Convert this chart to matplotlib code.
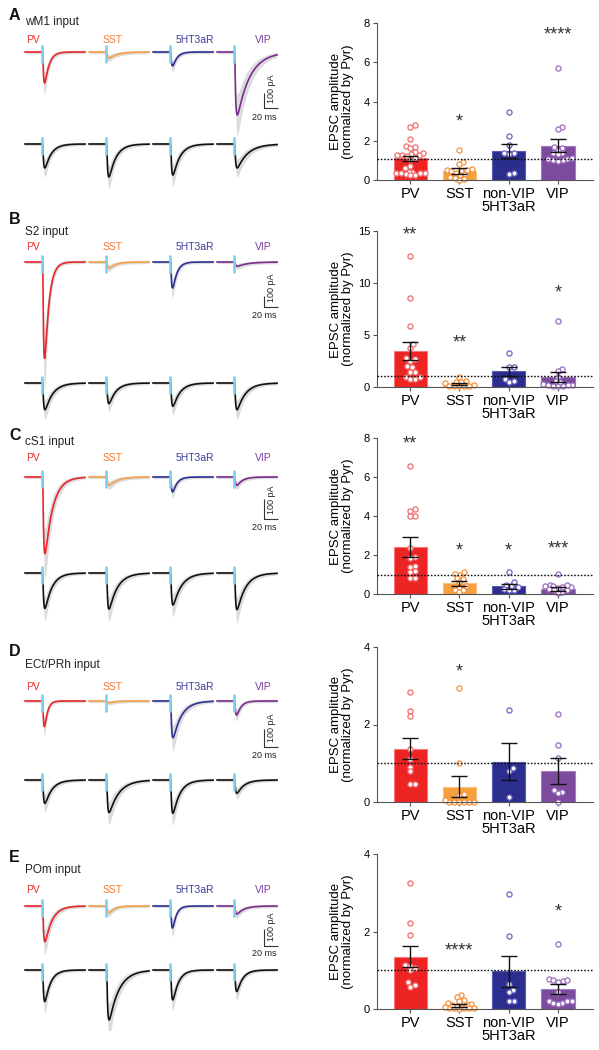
import numpy as np
import matplotlib
matplotlib.use("Agg")
import matplotlib.pyplot as plt

plt.rcParams['font.family'] = ['Liberation Sans', 'DejaVu Sans']

# ======================= DATA =======================
panel_letters = ['A', 'B', 'C', 'D', 'E']
input_names = ['wM1 input', 'S2 input', 'cS1 input', 'ECt/PRh input', 'POm input']
trace_labels = ['PV', 'SST', '5HT3aR', 'VIP']
bar_categories = ['PV', 'SST', 'non-VIP\n5HT3aR', 'VIP']

# Example EPSC peak amplitudes (pA): interneuron (top row) / paired Pyr (bottom row)
inter_amp_A = [207, 40, 93, 420]
pyr_amp_A = [160, 220, 207, 160]
inter_amp_B = [900, 56, 243, 40]
pyr_amp_B = [250, 193, 218, 250]
inter_amp_C = [383, 42, 75, 42]
pyr_amp_C = [177, 180, 160, 183]
inter_amp_D = [142, 10, 204, 78]
pyr_amp_D = [130, 181, 185, 74]
inter_amp_E = [210, 40, 130, 47]
pyr_amp_E = [186, 294, 176, 127]

# Decay time constants of the example EPSCs (ms)
inter_tau_A = [6, 12, 6, 18]
pyr_tau_A = [9, 10, 10, 15]
inter_tau_B = [6, 10, 6, 15]
pyr_tau_B = [11, 10, 10, 12]
inter_tau_C = [11, 12, 6, 8]
pyr_tau_C = [10, 12, 12, 12]
inter_tau_D = [4, 10, 12, 6]
pyr_tau_D = [10, 14, 10, 10]
inter_tau_E = [10, 8, 5, 10]
pyr_tau_E = [8, 14, 8, 8]

# Bar charts: mean, SEM and individual cells (EPSC amplitude normalized by Pyr)
mean_A = [1.10, 0.46, 1.48, 1.75]
sem_A = [0.14, 0.16, 0.36, 0.32]
pv_A = [2.80, 2.71, 2.08, 1.73, 1.66, 1.61, 1.41, 1.36, 1.31, 1.27, 1.27, 1.25,
        1.22, 1.12, 1.05, 0.71, 0.59, 0.42, 0.42, 0.37, 0.37, 0.34, 0.34, 0.30, 0.28, 0.25]
sst_A = [1.53, 0.94, 0.82, 0.55, 0.52, 0.48, 0.45, 0.35, 0.30, 0.25, 0.15, 0.10, 0.05, 0.02, 0.50]
nvip_A = [3.46, 2.22, 1.76, 1.38, 1.36, 1.34, 0.34, 0.32]
vip_A = [5.69, 2.72, 2.59, 1.70, 1.64, 1.55, 1.40, 1.36, 1.30, 1.08, 1.05, 1.02, 1.00, 0.98, 1.10]
stars_A = ['', '*', '', '****']
star_y_A = [0, 2.95, 0, 7.4]

mean_B = [3.45, 0.28, 1.50, 0.95]
sem_B = [0.85, 0.10, 0.45, 0.48]
pv_B = [12.6, 8.55, 5.85, 4.10, 3.75, 2.78, 2.72, 2.53, 2.00, 1.90, 1.48, 1.48, 0.93, 0.93, 0.77, 0.77]
sst_B = [0.95, 0.55, 0.50, 0.45, 0.38, 0.20, 0.10, 0.05, 0.05, 0.10, 0.05]
nvip_B = [3.25, 1.95, 1.90, 0.75, 0.50, 0.55]
vip_B = [6.30, 1.70, 1.50, 1.00, 0.55, 0.30, 0.20, 0.15, 0.10, 0.10, 0.10, 0.15, 0.45]
stars_B = ['**', '**', '', '*']
star_y_B = [14.6, 4.2, 0, 9.0]

mean_C = [2.42, 0.55, 0.40, 0.25]
sem_C = [0.50, 0.14, 0.12, 0.09]
pv_C = [6.55, 4.35, 4.25, 4.02, 3.98, 2.35, 1.92, 1.85, 1.45, 1.40, 1.20, 1.15, 0.80, 0.80]
sst_C = [1.15, 1.02, 1.00, 0.82, 0.75, 0.60, 0.40, 0.35, 0.20, 0.20, 0.08]
nvip_C = [1.15, 0.60, 0.48, 0.42, 0.35, 0.25, 0.20, 0.20]
vip_C = [1.05, 0.45, 0.42, 0.40, 0.38, 0.32, 0.28, 0.22, 0.18, 0.12, 0.05, 0.35, 0.45]
stars_C = ['**', '*', '*', '***']
star_y_C = [7.7, 2.2, 2.2, 2.3]

mean_D = [1.38, 0.40, 1.04, 0.80]
sem_D = [0.28, 0.27, 0.47, 0.33]
pv_D = [2.85, 2.34, 2.22, 1.36, 1.10, 0.91, 0.79, 0.46, 0.47]
sst_D = [2.95, 1.00, 0.20, 0.17, 0.00, 0.00, 0.00, 0.00, 0.00, 0.00, 0.05]
nvip_D = [2.37, 0.87, 0.80, 0.13]
vip_D = [2.26, 1.46, 1.14, 0.30, 0.25, 0.22, 0.00]
stars_D = ['', '*', '', '']
star_y_D = [0, 3.35, 0, 0]

mean_E = [1.35, 0.08, 0.98, 0.52]
sem_E = [0.27, 0.04, 0.40, 0.13]
pv_E = [3.24, 2.21, 1.90, 1.14, 1.12, 1.05, 1.00, 0.69, 0.62, 0.58]
sst_E = [0.35, 0.30, 0.22, 0.20, 0.15, 0.12, 0.10, 0.06, 0.03, 0.02, 0.02, 0.01,
         0.02, 0.03, 0.05, 0.08, 0.10]
nvip_E = [2.97, 1.88, 0.65, 0.50, 0.45, 0.20, 0.20]
vip_E = [1.67, 0.78, 0.75, 0.72, 0.70, 0.75, 0.45, 0.20, 0.15, 0.20, 0.15, 0.20, 0.12]
stars_E = ['', '****', '', '*']
star_y_E = [0, 1.5, 0, 2.5]

y_max = [8, 15, 8, 4, 4]
y_ticks = [[0, 2, 4, 6, 8], [0, 5, 10, 15], [0, 2, 4, 6, 8], [0, 2, 4], [0, 2, 4]]
ref_level = [1.07, 1.1, 1.0, 1.0, 1.0]

# ======================= STYLE / LAYOUT =======================
W, H = 599, 1050
fig = plt.figure(figsize=(W / 100, H / 100), dpi=100)

bar_colors = ['#ee2424', '#f6a03d', '#2b2e8c', '#7d4b9e']
bar_edges = ['#f47a7a', '#f9c080', '#5a5cb0', '#a07cc0']
pt_edges = ['#f26d6d', '#f7923a', '#6a62c4', '#9a6cc0']
trace_colors = ['#e8262b', '#f5a04a', '#2e3192', '#7b2d8e']
label_colors = ['#ee3030', '#f47a3a', '#3b3d9c', '#7e3f9d']
stim_color = '#7fd0ee'

# per row pixel layout
letter_y = [15, 219, 435, 652, 858]
title_y = [22, 232, 442, 665, 870]
label_y = [40, 247, 458, 687, 890]
top_base = [52, 262, 477, 701, 906]
bot_base = [144, 383, 573, 780, 970]
px_per_100pA = [15, 10.7, 20, 18, 17]
scale_bottom = [108, 307, 519, 747, 946]
ms_text_y = [117, 315, 528, 756, 953]
bar_zero = [180, 387, 594, 802, 1009]
bar_top = [23, 231, 438, 647, 854]

PX_PER_MS = 0.7
seg_start_px = [25, 89, 153, 217]
label_x_px = [33, 113, 195, 263]
SEG_MS = 86
STIM_MS = 24.5

AX_L, AX_R = 377, 593


def frect(x0, y0, x1, y1):
    return [x0 / W, 1 - y1 / H, (x1 - x0) / W, (y1 - y0) / H]


def ftext(xp, yp, s, **kw):
    return fig.text(xp / W, 1 - yp / H, s, **kw)


def epsc(t, amp, tau_d, tau_r=1.2, onset=STIM_MS + 1.0):
    tt = np.clip(t - onset, 0, None)
    w = np.exp(-tt / tau_d) - np.exp(-tt / tau_r)
    w = w / w.max()
    return -amp * w


def swarm(vals, ypu, xpu, d=4.6, max_off=14.5):
    """Deterministic beeswarm offsets (in data units) kept within the bar."""
    vals = np.asarray(vals, float)
    order = np.argsort(vals)
    placed = []
    xs = np.zeros(len(vals))
    cands = [0.0]
    k = 1
    while k * 0.5 <= max_off:
        cands += [k * 0.5, -k * 0.5]
        k += 1
    for i in order:
        y = vals[i] * ypu
        best, best_d = 0.0, -1
        for c in cands:
            md = min([np.hypot(c - px, y - py) for px, py in placed] + [99])
            if md >= d:
                best = c
                break
            if md > best_d + 1e-9:
                best, best_d = c, md
        placed.append((best, y))
        xs[i] = best / xpu
    return xs


inter_amps = [inter_amp_A, inter_amp_B, inter_amp_C, inter_amp_D, inter_amp_E]
pyr_amps = [pyr_amp_A, pyr_amp_B, pyr_amp_C, pyr_amp_D, pyr_amp_E]
inter_taus = [inter_tau_A, inter_tau_B, inter_tau_C, inter_tau_D, inter_tau_E]
pyr_taus = [pyr_tau_A, pyr_tau_B, pyr_tau_C, pyr_tau_D, pyr_tau_E]
means = [mean_A, mean_B, mean_C, mean_D, mean_E]
sems = [sem_A, sem_B, sem_C, sem_D, sem_E]
points = [[pv_A, sst_A, nvip_A, vip_A], [pv_B, sst_B, nvip_B, vip_B],
          [pv_C, sst_C, nvip_C, vip_C], [pv_D, sst_D, nvip_D, vip_D],
          [pv_E, sst_E, nvip_E, vip_E]]
stars = [stars_A, stars_B, stars_C, stars_D, stars_E]
star_ys = [star_y_A, star_y_B, star_y_C, star_y_D, star_y_E]

t = np.arange(0, SEG_MS, 0.2)

for r in range(5):
    # ---------------- traces ----------------
    s = px_per_100pA[r]
    pa_per_px = 100.0 / s
    x0p, x1p = 15, 292
    y0p, y1p = label_y[r] - 8, bot_base[r] + 60
    ax = fig.add_axes(frect(x0p, y0p, x1p, y1p))
    ax.set_axis_off()
    ax.set_xlim((x0p - 25) / PX_PER_MS, (x1p - 25) / PX_PER_MS)
    ax.set_ylim((top_base[r] - y1p) * pa_per_px, (top_base[r] - y0p) * pa_per_px)
    pyr_base = -(bot_base[r] - top_base[r]) * pa_per_px
    band = 1.6 * pa_per_px
    for j in range(4):
        off = (seg_start_px[j] - 25) / PX_PER_MS
        for base, amp, tau, col in [(0.0, inter_amps[r][j], inter_taus[r][j], trace_colors[j]),
                                    (pyr_base, pyr_amps[r][j], pyr_taus[r][j], '#111111')]:
            w = epsc(t, amp, tau)
            ax.fill_between(t + off, base + 1.3 * w - band, base + 0.7 * w + band,
                            color='#dcdcdc', lw=0, zorder=1)
            ax.plot(t + off, base + w, color=col, lw=1.2, zorder=2)
            ax.plot([off + STIM_MS, off + STIM_MS],
                    [base + 7 * pa_per_px, base - 11 * pa_per_px],
                    color=stim_color, lw=1.9, zorder=4, solid_capstyle='butt')
        ftext(label_x_px[j], label_y[r], trace_labels[j], color=label_colors[j],
              fontsize=7.5, ha='center', va='center')
    # scale bar
    sx = (264 - 25) / PX_PER_MS
    sy = (top_base[r] - scale_bottom[r]) * pa_per_px
    ax.plot([sx, sx, sx + 20], [sy + 100, sy, sy], color='#333333', lw=0.8,
            solid_capstyle='butt', zorder=5)
    ftext(271.5, scale_bottom[r] - 5, '100 pA', rotation=90, fontsize=6.5,
          ha='center', va='bottom', color='#222222')
    ftext(264.5, ms_text_y[r], '20 ms', fontsize=6.5, ha='center', va='center',
          color='#222222')
    ftext(9, letter_y[r], panel_letters[r], fontsize=11.5, fontweight='bold',
          ha='left', va='center', color='#111111')
    ftext(25, title_y[r], input_names[r], fontsize=8.5, ha='left', va='center',
          color='#222222')

    # ---------------- bar chart ----------------
    bx = fig.add_axes(frect(AX_L, bar_top[r], AX_R, bar_zero[r]))
    ymax = y_max[r]
    bx.set_xlim(-0.67, 3.71)
    bx.set_ylim(0, ymax)
    xpu = (AX_R - AX_L) / (3.71 + 0.67)
    ypu = (bar_zero[r] - bar_top[r]) / ymax
    xs = np.arange(4)
    bx.bar(xs, means[r], width=0.67, color=bar_colors, edgecolor=bar_edges,
           linewidth=0.8, zorder=1)
    for j in range(4):
        vals = points[r][j]
        offs = swarm(vals, ypu, xpu)
        bx.plot(xs[j] + offs, vals, 'o', ms=3.7, mfc='white', mec=pt_edges[j],
                mew=0.9, zorder=2, clip_on=False)
        if stars[r][j]:
            bx.text(xs[j], star_ys[r][j], stars[r][j], ha='center', va='center',
                    fontsize=13, color='#333333')
    bx.errorbar(xs, means[r], yerr=sems[r], fmt='none', ecolor='#111111',
                elinewidth=1.0, capsize=5.5, capthick=1.0, zorder=3)
    bx.axhline(ref_level[r], color='#111111', lw=1.0, ls=(0, (1.2, 1.2)), zorder=4)
    for sp in ['top', 'right']:
        bx.spines[sp].set_visible(False)
    for sp in ['left', 'bottom']:
        bx.spines[sp].set_color('#555555')
        bx.spines[sp].set_linewidth(0.8)
    bx.set_yticks(y_ticks[r])
    bx.set_xticks(xs)
    bx.set_xticklabels(bar_categories, fontsize=10.5, linespacing=0.9)
    bx.tick_params(axis='y', labelsize=8, length=3, width=0.8, color='#555555', pad=2)
    bx.tick_params(axis='x', length=3, width=0.8, color='#555555', pad=2)
    bx.set_ylabel('EPSC amplitude\n(normalized by Pyr)', fontsize=9.5, linespacing=1.0)
    bx.yaxis.set_label_coords(-0.105, 0.5)

fig.savefig('out.png', dpi=100)
